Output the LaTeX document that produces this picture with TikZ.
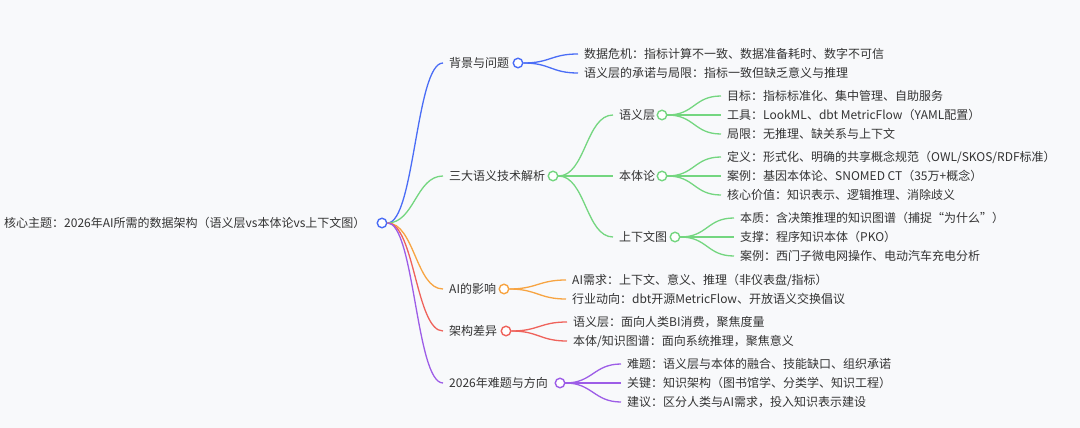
\documentclass[tikz,border=0pt]{standalone}
\usepackage{fontspec}
\setmainfont{Noto Sans CJK SC}
\definecolor{bgcol}{HTML}{F8F9FB}
\definecolor{txtcol}{HTML}{333333}
\definecolor{mmblue}{HTML}{4A6DF6}
\definecolor{mmgreen}{HTML}{74D680}
\definecolor{mmorange}{HTML}{F7A442}
\definecolor{mmred}{HTML}{EF625B}
\definecolor{mmpurple}{HTML}{9D5DE7}
\begin{document}
\begin{tikzpicture}[x=1pt, y=-1pt, font=\fontsize{12}{14}\selectfont,
    lbl/.style={anchor=west, inner xsep=6pt, inner ysep=1pt, text=txtcol},
    dot/.style={circle, draw=#1, fill=white, line width=1.4pt, minimum size=9.5pt, inner sep=0pt},
    link/.style={draw=#1, line width=1.3pt}]
  \fill[bgcol] (0,0) rectangle (1080,428);
  \node[lbl, inner xsep=0pt] (root) at (4,223) {核心主题：2026年AI所需的数据架构（语义层vs本体论vs上下文图）};
  \node[dot=mmblue] (root-o) at (382,223) {};
  \node[lbl] (bg) at (443,63) {背景与问题};
  \node[lbl] (sem) at (443,176) {三大语义技术解析};
  \node[lbl] (ai) at (443,289) {AI的影响};
  \node[lbl] (arch) at (443,331) {架构差异};
  \node[lbl] (fut) at (443,383) {2026年难题与方向};
  \foreach \n/\c in {bg/mmblue, sem/mmgreen, ai/mmorange, arch/mmred, fut/mmpurple}
    \draw[link=\c] (root-o.east) .. controls +(27,0) and +(-27,0) .. (\n.west);
  \node[dot=mmblue] (bg-o) at (518,63) {};
  \node[dot=mmgreen] (sem-o) at (553,176) {};
  \node[dot=mmorange] (ai-o) at (504,289) {};
  \node[dot=mmred] (arch-o) at (506,331) {};
  \node[dot=mmpurple] (fut-o) at (560,383) {};
  \foreach \t [count=\i] in {{数据危机：指标计算不一致、数据准备耗时、数字不可信},
      {语义层的承诺与局限：指标一致但缺乏意义与推理}} {
    \node[lbl] (bg-\i) at (578,35+19*\i) {\t};
    \draw[link=mmblue] (bg-o.east) .. controls +(27,0) and +(-27,0) .. (bg-\i.west);
  }
  \node[lbl] (sem-a) at (613,115) {语义层};
  \node[lbl] (sem-b) at (613,176) {本体论};
  \node[lbl] (sem-c) at (613,237) {上下文图};
  \foreach \n in {sem-a, sem-b, sem-c}
    \draw[link=mmgreen] (sem-o.east) .. controls +(27,0) and +(-27,0) .. (\n.west);
  \node[dot=mmgreen] (sem-a-o) at (662,115) {};
  \node[dot=mmgreen] (sem-b-o) at (662,176) {};
  \node[dot=mmgreen] (sem-c-o) at (675,237) {};
  \foreach \t [count=\i] in {{目标：指标标准化、集中管理、自助服务},
      {工具：LookML、dbt MetricFlow（YAML配置）},
      {局限：无推理、缺关系与上下文}} {
    \node[lbl] (sem-a-\i) at (721,77+19*\i) {\t};
    \draw[link=mmgreen] (sem-a-o.east) .. controls +(27,0) and +(-27,0) .. (sem-a-\i.west);
  }
  \foreach \t [count=\i] in {{定义：形式化、明确的共享概念规范（OWL/SKOS/RDF标准）},
      {案例：基因本体论、SNOMED CT（35万+概念）},
      {核心价值：知识表示、逻辑推理、消除歧义}} {
    \node[lbl] (sem-b-\i) at (721,138+19*\i) {\t};
    \draw[link=mmgreen] (sem-b-o.east) .. controls +(27,0) and +(-27,0) .. (sem-b-\i.west);
  }
  \foreach \t [count=\i] in {{本质：含决策推理的知识图谱（捕捉“为什么”）},
      {支撑：程序知识本体（PKO）},
      {案例：西门子微电网操作、电动汽车充电分析}} {
    \node[lbl] (sem-c-\i) at (734,199+19*\i) {\t};
    \draw[link=mmgreen] (sem-c-o.east) .. controls +(27,0) and +(-27,0) .. (sem-c-\i.west);
  }
  \foreach \t [count=\i] in {{AI需求：上下文、意义、推理（非仪表盘/指标）},
      {行业动向：dbt开源MetricFlow、开放语义交换倡议}} {
    \node[lbl] (ai-\i) at (566,261+19*\i) {\t};
    \draw[link=mmorange] (ai-o.east) .. controls +(27,0) and +(-27,0) .. (ai-\i.west);
  }
  \foreach \t [count=\i] in {{语义层：面向人类BI消费，聚焦度量},
      {本体/知识图谱：面向系统推理，聚焦意义}} {
    \node[lbl] (arch-\i) at (567,303+19*\i) {\t};
    \draw[link=mmred] (arch-o.east) .. controls +(27,0) and +(-27,0) .. (arch-\i.west);
  }
  \foreach \t [count=\i] in {{难题：语义层与本体的融合、技能缺口、组织承诺},
      {关键：知识架构（图书馆学、分类学、知识工程）},
      {建议：区分人类与AI需求，投入知识表示建设}} {
    \node[lbl] (fut-\i) at (621,345+19*\i) {\t};
    \draw[link=mmpurple] (fut-o.east) .. controls +(27,0) and +(-27,0) .. (fut-\i.west);
  }
\end{tikzpicture}
\end{document}
